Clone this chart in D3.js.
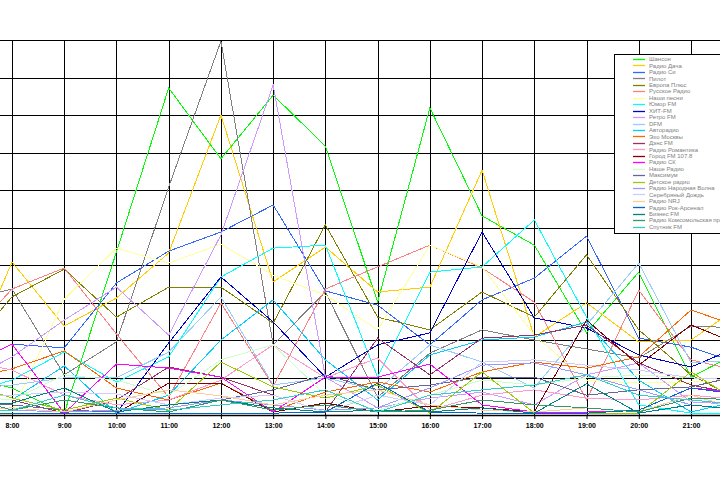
<!DOCTYPE html>
<html><head><meta charset="utf-8">
<script src="https://cdn.jsdelivr.net/npm/d3@7"></script>
<style>html,body{margin:0;padding:0;background:#fff;overflow:hidden}</style>
</head><body><svg id="c" width="720" height="480"></svg>
<script>
// ---- data ----
const hours = [7,8,9,10,11,12,13,14,15,16,17,18,19,20,21,22];
const labelHours = [8,9,10,11,12,13,14,15,16,17,18,19,20,21];
const hourLabels = ["8:00","9:00","10:00","11:00","12:00","13:00","14:00","15:00","16:00","17:00","18:00","19:00","20:00","21:00"];
const gridValues = [0,10,20,30,40,50,60,70,80,90,100];
const stations = ["Шансон","Радио Дача","Радио Си","Пилот","Европа Плюс","Русское Радио","Наши песни","Юмор FM","ХИТ-FM","Ретро FM","DFM","Авторадио","Эхо Москвы","Дэнс FM","Радио Романтика","Город FM 107.8","Радио СК","Наше Радио","Максимум","Детское радио","Радио Народная Волна","Серебряный Дождь","Радио NRJ","Радио Рок-Арсенал","Бизнес FM","Радио Комсомольская правда","Спутник FM"];
const colors = ["#00ff00","#ffcc00","#3366ff","#808080","#808000","#ff8080","#ffff99","#00ffff","#0000cc","#cc99ff","#99ccff","#00ccff","#ff6600","#993366","#ff99cc","#800000","#ff00ff","#ccffcc","#666699","#99cc00","#9999ff","#ccccff","#ffcc99","#0066cc","#008080","#339966","#33cccc"];
const values = [
 [10.7,7.2,0.5,43.5,87.2,68.3,85.3,71.7,30.1,81.9,53.1,45.3,21.9,38.1,10.1,17.3],
 [8.0,40.8,23.7,31.2,43.2,80.0,35.5,44.8,32.8,34.1,65.3,20.8,29.9,19.5,20.0,29.6],
 [12.0,18.9,17.9,35.2,43.7,48.8,56.0,33.1,29.3,18.7,30.7,36.5,47.7,20.5,18.1,13.3],
 [30.1,33.6,10.7,19.5,60.8,99.7,18.7,32.8,4.8,16.5,22.7,20.0,17.6,15.2,23.7,23.2],
 [15.2,31.5,38.9,26.1,34.1,34.1,24.5,50.7,26.1,22.7,32.8,26.1,42.7,22.7,10.7,3.5],
 [18.4,33.6,39.2,21.6,4.8,29.9,7.7,33.6,39.5,45.3,39.2,30.1,4.0,33.3,14.7,11.5],
 [0,0.8,30.9,44.5,40.5,45.6,37.3,32.0,22.7,45.3,39.5,21.3,9.3,8.5,8.8,9.3],
 [5.3,9.3,16.8,8.8,15.5,36.8,44.5,45.3,10.1,38.1,39.5,52.0,26.1,2.7,0.5,0.5],
 [0,0.5,0.5,0.5,19.2,36.8,24.8,10.1,18.7,21.9,48.8,25.9,23.2,16.0,12.8,18.7],
 [8.0,15.5,25.3,34.1,21.3,48.0,88.0,10.1,1.9,4.5,6.1,2.7,10.7,13.9,3.5,2.7],
 [6.7,8.0,9.9,9.9,16.8,31.5,8.0,9.9,6.7,18.7,14.1,7.2,24.0,40.5,13.9,14.7],
 [5.3,4.0,13.1,0.5,5.3,20.0,30.7,14.7,4.0,16.0,20.0,20.8,24.8,9.3,0.8,4.0],
 [9.3,12.3,17.1,7.2,4.0,8.5,1.1,6.1,8.8,6.1,11.5,14.1,12.5,15.5,28.0,23.2],
 [5.3,4.0,0.5,4.0,12.8,10.1,5.3,0.8,20.5,10.7,20.5,21.3,24.0,13.9,8.0,5.3],
 [14.7,12.0,5.3,2.7,4.0,9.3,18.7,9.9,15.2,1.3,5.3,6.7,4.5,4.0,5.3,4.0],
 [0.5,0.5,0.5,0.5,8.5,8.5,0.8,3.2,0.8,2.4,1.9,0.8,25.3,13.3,24.0,18.4],
 [12.0,18.9,0.5,13.6,12.5,10.1,0.8,10.1,10.1,13.6,2.7,0.8,0.8,1.3,7.2,5.9],
 [5.3,4.0,10.7,9.3,5.3,14.7,18.7,5.3,1.3,5.3,9.3,8.0,9.9,10.7,9.9,9.3],
 [2.7,2.7,1.3,0.8,2.7,4.0,6.7,10.7,6.7,8.0,10.1,10.1,5.3,6.7,7.5,10.7],
 [9.3,4.5,1.3,4.5,1.3,14.1,7.5,4.5,8.0,0.5,11.5,0.5,0.5,0.5,11.5,2.7],
 [1.3,1.3,0.8,1.3,1.9,4.0,2.7,1.3,1.9,7.2,13.3,13.9,10.7,6.7,2.7,1.3],
 [5.3,5.3,6.1,5.6,2.7,4.5,5.3,0.8,5.3,2.7,14.1,14.7,13.3,12.0,9.9,9.3],
 [1.3,1.9,0.8,4.0,6.7,5.1,2.7,5.3,6.7,2.7,1.3,0.8,1.9,0.8,5.3,1.3],
 [0.5,0.5,0.5,0.5,0.5,0.5,0.5,0.8,8.5,0.8,0.5,0.5,0.5,1.3,7.2,5.3],
 [2.7,3.2,7.2,0.8,2.7,4.0,1.9,0.8,1.3,0.8,1.9,0.5,8.3,0.5,2.7,1.3],
 [5.3,1.3,4.0,1.9,0.8,4.0,1.3,2.7,0.8,1.3,4.0,2.7,1.9,0.8,4.5,4.0],
 [0.8,1.3,5.3,1.9,1.3,2.7,4.0,6.7,0.8,5.3,6.7,8.0,10.7,5.3,4.0,2.7]
];

// ---- chart ----
const W = 720, H = 480;
const plotTop = 40, plotBottom = 415;
const x = d3.scaleLinear().domain([8,21]).range([12,691]);
const y = d3.scaleLinear().domain([0,100]).range([plotBottom, plotTop]);
const svg = d3.select('#c');

// horizontal grid
svg.append('g')
  .call(d3.axisLeft(y).tickValues(gridValues).tickSize(-W).tickFormat(''))
  .call(g => { g.select('.domain').remove(); g.selectAll('line').attr('stroke','#000').attr('stroke-width',1).attr('shape-rendering','crispEdges'); });

// vertical grid
svg.append('g').attr('transform',`translate(0,${plotBottom})`)
  .call(d3.axisBottom(x).tickValues(hours).tickSize(-(plotBottom-plotTop)).tickFormat(''))
  .call(g => { g.select('.domain').remove(); g.selectAll('line').attr('stroke','#000').attr('stroke-width',1).attr('shape-rendering','crispEdges'); });

// lines
const line = d3.line().x((d,i)=>x(hours[i])).y(d=>y(d));
const lg = svg.append('g');
values.forEach((vals, si) => {
  lg.append('path').datum(vals)
    .attr('d', line).attr('fill','none')
    .attr('stroke', colors[si]).attr('stroke-width',1)
    .attr('shape-rendering','crispEdges');
});

// x axis
svg.append('g').attr('transform',`translate(0,${plotBottom})`)
  .call(d3.axisBottom(x).tickValues(labelHours).tickSize(4).tickFormat((d,i)=>hourLabels[i]).tickPadding(4))
  .call(g => {
    g.select('.domain').attr('stroke','#000').attr('stroke-width',1.5).attr('d',`M0,0.5H${W}`);
    g.selectAll('line').attr('stroke','#000');
    g.selectAll('text').attr('font-family','Liberation Sans, Arial, sans-serif')
      .attr('font-size',7).attr('font-weight','bold').attr('fill','#000');
  });

// legend
const lgX = 614.5, lgY = 54.5, lgW = 120, lgH = 179;
const leg = svg.append('g');
leg.append('rect').attr('x',lgX).attr('y',lgY).attr('width',lgW).attr('height',lgH)
  .attr('fill','#fff').attr('stroke','#000').attr('stroke-width',1);
const step = 6.45;
stations.forEach((name, i) => {
  const yy = 59 + i*step;
  leg.append('line').attr('x1',633).attr('x2',645).attr('y1',Math.round(yy)+0.5).attr('y2',Math.round(yy)+0.5)
    .attr('stroke',colors[i]).attr('stroke-width',1.3);
  leg.append('text').attr('x',649).attr('y',yy+2.2).text(name)
    .attr('font-family','Liberation Sans, Arial, sans-serif').attr('font-size',6).attr('fill','#808080');
});
</script></body></html>
